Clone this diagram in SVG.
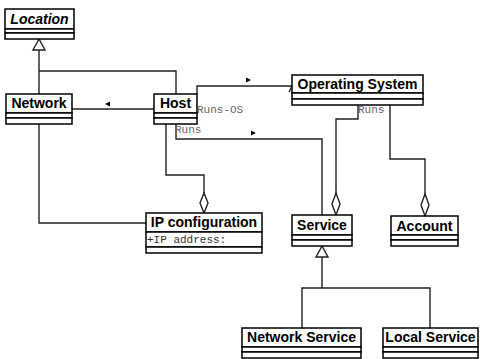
<svg xmlns="http://www.w3.org/2000/svg" width="480" height="359" viewBox="0 0 480 359">
  <style>
    .box { fill: #fff; stroke: #000; stroke-width: 1.5; }
    .name { font-family: "Liberation Sans", Arial, sans-serif; font-weight: bold; font-size: 14px; fill: #000; text-anchor: middle; }
    .abstract { font-style: italic; }
    .attr { font-family: "Liberation Mono", "Courier New", monospace; font-size: 11px; fill: #333; }
    .role { font-family: "Liberation Mono", "Courier New", monospace; font-size: 11px; fill: #666; }
    .edge { fill: none; stroke: #222; stroke-width: 1.4; }
    .hollow { fill: #fff; stroke: #222; stroke-width: 1.4; }
    .dir { fill: #000; stroke: none; }
  </style>

  <!-- connectors -->
  <g id="connectors">
    <!-- generalisation: Network, Host -> Location -->
    <polyline class="edge" points="39,94 39,50"/>
    <polyline class="edge" points="39,71 176,71 176,94"/>
    <polygon class="hollow" points="39,39 33,50 45,50"/>

    <!-- Network <-> Host -->
    <line class="edge" x1="72" y1="109" x2="156" y2="109"/>
    <rect x="155" y="107.5" width="3" height="3" fill="#000"/>
    <polygon class="dir" points="105,104 110,101.5 110,106.5"/>

    <!-- Host -> Operating System (Runs-OS) -->
    <polyline class="edge" points="197,94 197,86 292,86"/>
    <polyline class="edge" points="289,92 293.5,83 297,92"/>
    <polygon class="dir" points="251,80 246,77.5 246,82.5"/>
    <text class="role" x="197" y="113">Runs-OS</text>

    <!-- Host -> Service (Runs) -->
    <polyline class="edge" points="176,124 176,139 322,139 322,215"/>
    <polygon class="dir" points="256,133 251,130.5 251,135.5"/>
    <text class="role" x="175" y="133">Runs</text>

    <!-- Host <>- IP configuration -->
    <polyline class="edge" points="166,124 166,175 204,175 204,193"/>
    <polygon class="hollow" points="204,193 208,203 204,213 200,203"/>

    <!-- Network - IP configuration -->
    <polyline class="edge" points="39,124 39,223 146,223"/>

    <!-- Operating System <>- Service (Runs) -->
    <polyline class="edge" points="358,105 358,119 336,119 336,193"/>
    <polygon class="hollow" points="336,193 340,204 336,215 332,204"/>
    <text class="role" x="358" y="113">Runs</text>

    <!-- Operating System <>- Account -->
    <polyline class="edge" points="390,105 390,159 425,159 425,194"/>
    <polygon class="hollow" points="425,194 429,205 425,216 421,205"/>

    <!-- generalisation: Network Service, Local Service -> Service -->
    <polyline class="edge" points="322,257 322,288"/>
    <polyline class="edge" points="302,328 302,288 430,288 430,328"/>
    <polygon class="hollow" points="322,246 316,257 328,257"/>
  </g>

  <!-- classes -->
  <g id="location">
    <rect class="box" x="5" y="9" width="69" height="20"/>
    <rect class="box" x="5" y="29" width="69" height="4"/>
    <rect class="box" x="5" y="33" width="69" height="6"/>
    <text class="name abstract" x="39.5" y="24">Location</text>
  </g>

  <g id="network">
    <rect class="box" x="6" y="94" width="66" height="19"/>
    <rect class="box" x="6" y="113" width="66" height="5"/>
    <rect class="box" x="6" y="118" width="66" height="6"/>
    <text class="name" x="39" y="108">Network</text>
  </g>

  <g id="host">
    <rect class="box" x="154" y="94" width="43" height="19"/>
    <rect class="box" x="154" y="113" width="43" height="5"/>
    <rect class="box" x="154" y="118" width="43" height="6"/>
    <text class="name" x="175.5" y="108">Host</text>
  </g>

  <g id="operating-system">
    <rect class="box" x="292" y="75" width="131" height="18"/>
    <rect class="box" x="292" y="93" width="131" height="6"/>
    <rect class="box" x="292" y="99" width="131" height="6"/>
    <text class="name" x="357.5" y="89">Operating System</text>
  </g>

  <g id="ip-configuration">
    <rect class="box" x="146" y="213" width="116" height="19"/>
    <rect class="box" x="146" y="232" width="116" height="15"/>
    <rect class="box" x="146" y="247" width="116" height="6"/>
    <text class="name" x="204" y="227">IP configuration</text>
    <text class="attr" x="147" y="243">+IP address:</text>
  </g>

  <g id="service">
    <rect class="box" x="292" y="215" width="60" height="20"/>
    <rect class="box" x="292" y="235" width="60" height="5"/>
    <rect class="box" x="292" y="240" width="60" height="6"/>
    <text class="name" x="322" y="230">Service</text>
  </g>

  <g id="account">
    <rect class="box" x="391" y="216" width="67" height="19"/>
    <rect class="box" x="391" y="235" width="67" height="5"/>
    <rect class="box" x="391" y="240" width="67" height="6"/>
    <text class="name" x="424.5" y="231">Account</text>
  </g>

  <g id="network-service">
    <rect class="box" x="242" y="328" width="119" height="19"/>
    <rect class="box" x="242" y="347" width="119" height="5"/>
    <rect class="box" x="242" y="352" width="119" height="6"/>
    <text class="name" x="301.5" y="342">Network Service</text>
  </g>

  <g id="local-service">
    <rect class="box" x="383" y="328" width="95" height="19"/>
    <rect class="box" x="383" y="347" width="95" height="5"/>
    <rect class="box" x="383" y="352" width="95" height="6"/>
    <text class="name" x="430.5" y="342">Local Service</text>
  </g>
</svg>
